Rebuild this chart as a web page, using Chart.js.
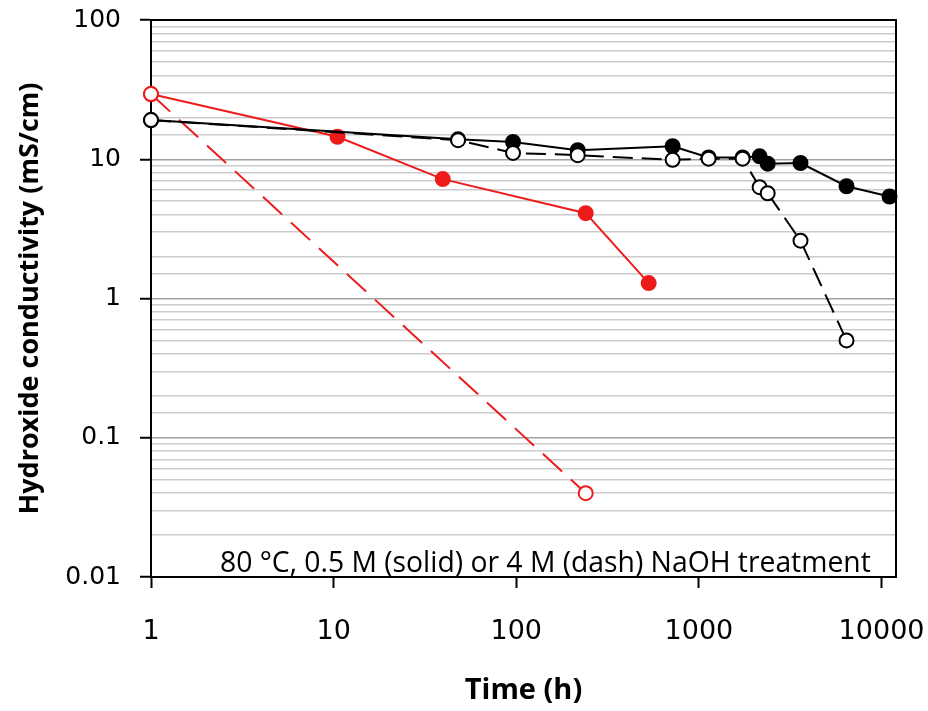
<!DOCTYPE html>
<html>
<head>
<meta charset="utf-8">
<script src="https://cdn.jsdelivr.net/npm/chart.js@4"></script>
<style>
  html, body { margin: 0; padding: 0; background: #fff; }
  #wrap { width: 928px; height: 711px; }
</style>
</head>
<body>
<div id="wrap"><canvas id="chart"></canvas></div>
<script>
// 0.5 M NaOH, black (filled)
const timeBlackSolid = [1, 48, 96, 217, 718, 1130, 1735, 2150, 2380, 3600, 6430, 11060];
const condBlackSolid = [19.1, 13.9, 13.3, 11.6, 12.4, 10.3, 10.3, 10.5, 9.3, 9.4, 6.4, 5.4];
// 4 M NaOH, black (open)
const timeBlackDash = [1, 48, 96, 217, 718, 1130, 1735, 2150, 2380, 3600, 6430];
const condBlackDash = [19.1, 13.7, 11.1, 10.7, 9.9, 10.1, 10.1, 6.3, 5.7, 2.6, 0.50];
// 0.5 M NaOH, red (filled)
const timeRedSolid = [1, 10.5, 39.6, 240, 531];
const condRedSolid = [29.4, 14.5, 7.2, 4.1, 1.29];
// 4 M NaOH, red (open)
const timeRedDash = [1, 240];
const condRedDash = [29.4, 0.040];

const yTicks = [0.01, 0.1, 1, 10, 100];
const xTicks = [1, 10, 100, 1000, 10000];
const note = '80 °C, 0.5 M (solid) or 4 M (dash) NaOH treatment';

const RED = '#ee1b1b';

function pts(xs, ys) {
  return xs.map((x, i) => ({x: x, y: ys[i]}));
}
function isMajor(v, list) {
  return list.some(t => Math.abs(Math.log10(v) - Math.log10(t)) < 1e-6);
}

const frame = {
  id: 'frame',
  afterDraw(chart) {
    const {ctx, chartArea: a} = chart;
    ctx.save();
    ctx.strokeStyle = '#000';
    ctx.lineWidth = 2;
    ctx.beginPath();
    ctx.moveTo(a.left, a.top);
    ctx.lineTo(a.right, a.top);
    ctx.lineTo(a.right, a.bottom);
    ctx.stroke();
    // annotation text
    ctx.fillStyle = '#000';
    ctx.font = '28.3px "Open Sans"';
    ctx.textBaseline = 'alphabetic';
    ctx.fillText(note, 220, 572);
    ctx.restore();
  }
};

new Chart(document.getElementById('chart'), {
  type: 'line',
  data: {
    datasets: [
      {
        data: pts(timeBlackDash, condBlackDash),
        borderColor: '#000', borderWidth: 2, borderDash: [20, 9],
        pointBackgroundColor: '#fff', pointBorderColor: '#000',
        pointBorderWidth: 2, pointRadius: 7, order: 1
      },
      {
        data: pts(timeBlackSolid, condBlackSolid),
        borderColor: '#000', borderWidth: 2,
        pointBackgroundColor: '#000', pointBorderColor: '#000',
        pointBorderWidth: 2, pointRadius: 7, order: 2
      },
      {
        data: pts(timeRedDash, condRedDash),
        borderColor: RED, borderWidth: 2, borderDash: [26, 12],
        pointBackgroundColor: '#fff', pointBorderColor: RED,
        pointBorderWidth: 2, pointRadius: 7, order: 3
      },
      {
        data: pts(timeRedSolid, condRedSolid),
        borderColor: RED, borderWidth: 2,
        pointBackgroundColor: RED, pointBorderColor: RED,
        pointBorderWidth: 2, pointRadius: 7, order: 4
      }
    ]
  },
  options: {
    responsive: true,
    maintainAspectRatio: false,
    animation: false,
    clip: false,
    layout: { padding: { left: 0, right: 32, top: 20, bottom: 0 } },
    plugins: { legend: { display: false }, tooltip: { enabled: false } },
    scales: {
      x: {
        type: 'logarithmic',
        min: 1, max: 12000,
        afterFit(s) { s.height = 134; s.paddingLeft = 0; s.paddingRight = 0; },
        grid: {
          drawOnChartArea: false,
          tickLength: 11,
          tickWidth: 2,
          tickColor: c => isMajor(c.tick.value, xTicks) ? '#000' : 'rgba(0,0,0,0)'
        },
        border: { color: '#000', width: 2 },
        ticks: {
          autoSkip: false, maxRotation: 0, padding: 28,
          color: '#000', font: { family: 'DejaVu Sans', size: 27 },
          callback: v => isMajor(v, xTicks) ? String(Math.round(v)) : ''
        },
        title: {
          display: true, text: 'Time (h)', color: '#000',
          font: { family: 'Open Sans', size: 29, weight: 'bold' },
          padding: { top: 0, bottom: 3 }
        }
      },
      y: {
        type: 'logarithmic',
        min: 0.01, max: 100,
        afterFit(s) { s.width = 151; s.paddingTop = 0; s.paddingBottom = 0; },
        grid: {
          color: c => isMajor(c.tick.value, yTicks) ? '#a0a0a0' : '#cccccc',
          lineWidth: 1.5,
          tickLength: 11,
          tickWidth: 2,
          tickColor: c => isMajor(c.tick.value, yTicks) ? '#000' : 'rgba(0,0,0,0)'
        },
        border: { color: '#000', width: 2 },
        ticks: {
          autoSkip: false, padding: 19,
          color: '#000', font: { family: 'DejaVu Sans', size: 25 },
          callback: v => isMajor(v, yTicks) ? String(+v.toPrecision(1)) : ''
        },
        title: {
          display: true, text: 'Hydroxide conductivity (mS/cm)', color: '#000',
          font: { family: 'Open Sans', size: 27, weight: 'bold' },
          padding: { top: 14, bottom: 0 }
        }
      }
    }
  },
  plugins: [frame]
});
</script>
</body>
</html>
